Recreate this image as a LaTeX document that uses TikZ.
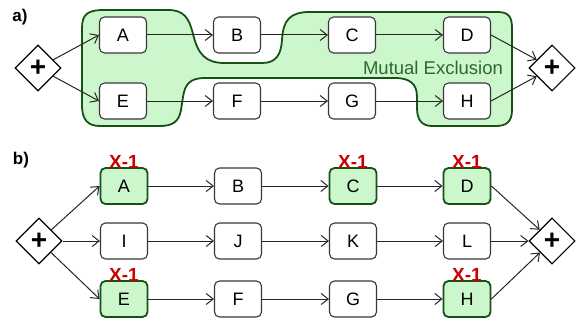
\documentclass[tikz,border=0pt]{standalone}
\usepackage{fontspec}
\setmainfont{Liberation Sans}
\usetikzlibrary{shapes.geometric,arrows.meta}
\definecolor{blobfill}{RGB}{204,247,204}
\definecolor{blobline}{RGB}{22,82,22}
\definecolor{blobtext}{RGB}{45,105,45}
\definecolor{xred}{RGB}{200,0,0}
\definecolor{boxline}{RGB}{55,55,55}
\begin{document}
\begin{tikzpicture}[x=1pt,y=-1pt,
 task/.style={draw=boxline, line width=1.1pt, fill=white, rounded corners=5pt, minimum width=47pt, minimum height=36pt, inner sep=0pt, font=\fontsize{18}{20}\selectfont},
 hot/.style={task, fill=blobfill, draw=blobline, line width=1.8pt},
 gate/.style={diamond, draw=black, line width=1.1pt, fill=white, minimum width=46pt, minimum height=46pt, inner sep=0pt, aspect=1, font=\fontsize{28}{28}\selectfont\bfseries},
 flow/.style={draw=black!85, line width=1pt, -{Straight Barb[length=7pt,width=11pt]}},
 xlab/.style={text=xred, font=\fontsize{19}{19}\selectfont\bfseries, anchor=south, inner sep=0pt},
 plabel/.style={font=\fontsize{17}{17}\selectfont\bfseries, inner sep=0pt},
 blob/.style={fill=blobfill, draw=blobline, line width=1.8pt}]
\useasboundingbox (0,0) rectangle (577,321);

% ---------- part a ----------
\node[plabel] (pa) at (20,17) {a)};
\path[blob] (82,60) -- (82,28) .. controls (82,14) and (88,10) .. (104,10) -- (168,10)
  .. controls (184,10) and (189,18) .. (193,34) .. controls (198,54) and (205,63) .. (225,63)
  -- (262,63) .. controls (276,63) and (281,55) .. (282,40) .. controls (283,20) and (290,12) .. (310,12)
  -- (497,12) .. controls (508,12) and (512,16) .. (512,28) -- (512,110)
  .. controls (512,122) and (506,126) .. (496,126) -- (432,126)
  .. controls (422,126) and (417,120) .. (417,108) -- (417,97)
  .. controls (417,84) and (410,78) .. (395,78) -- (205,78)
  .. controls (190,78) and (185,84) .. (183,97) -- (181,110)
  .. controls (179,122) and (172,126) .. (160,126) -- (100,126)
  .. controls (88,126) and (82,120) .. (82,105) -- cycle;
\node[text=blobtext, font=\fontsize{18.5}{20}\selectfont, inner sep=0pt] (mx) at (433,68) {Mutual Exclusion};

\node[gate] (la) at (38,68) {+};
\node[gate] (ra) at (552,68) {+};
\node[task] (A) at (123,35) {A};
\node[task] (B) at (237,35) {B};
\node[task] (C) at (352,35) {C};
\node[task] (D) at (467,35) {D};
\node[task] (E) at (123,101) {E};
\node[task] (F) at (237,101) {F};
\node[task] (G) at (352,101) {G};
\node[task] (H) at (467,101) {H};

\draw[flow] (la) -- (A.west);
\draw[flow] (la) -- (E.west);
\draw[flow] (A) -- (B);
\draw[flow] (B) -- (C);
\draw[flow] (C) -- (D);
\draw[flow] (E) -- (F);
\draw[flow] (F) -- (G);
\draw[flow] (G) -- (H);
\draw[flow] (D.east) -- (ra);
\draw[flow] (H.east) -- (ra);

% ---------- part b ----------
\node[plabel] (pb) at (21,160) {b)};
\node[gate] (lb) at (39,241) {+};
\node[gate] (rb) at (552,241) {+};
\node[hot]  (bA) at (124,186) {A};
\node[task] (bB) at (238,186) {B};
\node[hot]  (bC) at (353,186) {C};
\node[hot]  (bD) at (467,186) {D};
\node[task] (bI) at (124,241) {I};
\node[task] (bJ) at (238,241) {J};
\node[task] (bK) at (353,241) {K};
\node[task] (bL) at (467,241) {L};
\node[hot]  (bE) at (124,299) {E};
\node[task] (bF) at (238,299) {F};
\node[task] (bG) at (353,299) {G};
\node[hot]  (bH) at (467,299) {H};

\node[xlab] (xA) at ([yshift=-2pt]bA.north) {X-1};
\node[xlab] (xC) at ([yshift=-2pt]bC.north) {X-1};
\node[xlab] (xD) at ([yshift=-2pt]bD.north) {X-1};
\node[xlab] (xE) at ([yshift=-2pt]bE.north) {X-1};
\node[xlab] (xH) at ([yshift=-2pt]bH.north) {X-1};

\draw[flow] (lb) -- (bA.west);
\draw[flow] (lb) -- (bI.west);
\draw[flow] (lb) -- (bE.west);
\draw[flow] (bA) -- (bB);
\draw[flow] (bB) -- (bC);
\draw[flow] (bC) -- (bD);
\draw[flow] (bI) -- (bJ);
\draw[flow] (bJ) -- (bK);
\draw[flow] (bK) -- (bL);
\draw[flow] (bE) -- (bF);
\draw[flow] (bF) -- (bG);
\draw[flow] (bG) -- (bH);
\draw[flow] (bD.east) -- (rb);
\draw[flow] (bL.east) -- (rb);
\draw[flow] (bH.east) -- (rb);
\end{tikzpicture}
\end{document}
